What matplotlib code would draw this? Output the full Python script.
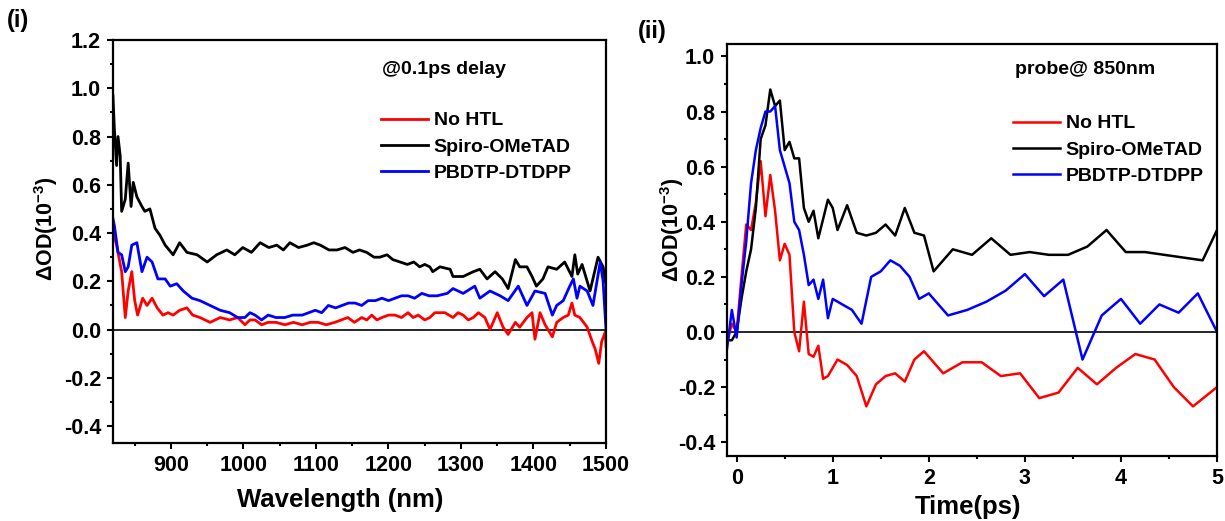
import matplotlib.pyplot as plt
from matplotlib.ticker import MultipleLocator

plt.rcParams['font.family'] = ['Liberation Sans', 'DejaVu Sans']
plt.rcParams['font.weight'] = 'bold'
plt.rcParams['mathtext.fontset'] = 'custom'
plt.rcParams['mathtext.bf'] = 'Liberation Sans:bold'
plt.rcParams['mathtext.default'] = 'bf'

# (i) spectra @0.1 ps delay
wl_black = [820, 822, 825, 827, 830, 832, 837, 841, 845, 848, 853, 860, 864, 871, 878, 885,
            892, 903, 912, 922, 936, 950, 963, 977, 988, 999, 1011, 1023, 1035, 1046, 1055,
            1064, 1076, 1088, 1097, 1106, 1118, 1129, 1140, 1151, 1160, 1170, 1180, 1188, 1198,
            1206, 1216, 1226, 1235, 1243, 1250, 1257, 1261, 1271, 1285, 1289, 1303, 1317, 1326,
            1336, 1347, 1357, 1365, 1375, 1381, 1391, 1398, 1404, 1413, 1420, 1432, 1443, 1453,
            1457, 1461, 1467, 1472, 1478, 1489, 1496, 1499, 1500]
od_black = [0.97, 0.83, 0.68, 0.80, 0.72, 0.49, 0.54, 0.69, 0.51, 0.61, 0.55, 0.51, 0.49, 0.50,
            0.42, 0.39, 0.35, 0.31, 0.36, 0.32, 0.31, 0.28, 0.31, 0.33, 0.31, 0.34, 0.32, 0.36,
            0.34, 0.35, 0.33, 0.36, 0.34, 0.35, 0.36, 0.35, 0.33, 0.33, 0.34, 0.32, 0.33, 0.32,
            0.30, 0.30, 0.31, 0.29, 0.28, 0.27, 0.28, 0.26, 0.27, 0.26, 0.24, 0.26, 0.25, 0.22,
            0.22, 0.24, 0.25, 0.21, 0.24, 0.21, 0.17, 0.29, 0.26, 0.26, 0.22, 0.18, 0.21, 0.26,
            0.25, 0.28, 0.22, 0.31, 0.23, 0.27, 0.22, 0.16, 0.30, 0.26, 0.20, 0.19]

wl_blue = [820, 822, 827, 832, 837, 841, 846, 853, 860, 867, 874, 882, 892, 899, 908, 917, 929,
           940, 954, 968, 981, 992, 1002, 1009, 1016, 1025, 1034, 1045, 1057, 1068, 1081, 1090,
           1099, 1108, 1117, 1127, 1136, 1145, 1154, 1163, 1172, 1182, 1191, 1200, 1209, 1218,
           1227, 1236, 1246, 1256, 1267, 1281, 1289, 1303, 1319, 1326, 1340, 1354, 1365, 1379,
           1391, 1402, 1416, 1426, 1432, 1441, 1450, 1455, 1460, 1464, 1474, 1482, 1492, 1496,
           1500]
od_blue = [0.46, 0.43, 0.32, 0.31, 0.24, 0.26, 0.35, 0.36, 0.24, 0.30, 0.28, 0.21, 0.21, 0.18,
           0.19, 0.16, 0.13, 0.12, 0.10, 0.08, 0.07, 0.05, 0.05, 0.07, 0.06, 0.04, 0.06, 0.05,
           0.05, 0.06, 0.06, 0.07, 0.08, 0.07, 0.10, 0.09, 0.10, 0.11, 0.11, 0.10, 0.12, 0.12,
           0.13, 0.12, 0.13, 0.14, 0.14, 0.13, 0.15, 0.14, 0.14, 0.15, 0.17, 0.15, 0.18, 0.13,
           0.16, 0.14, 0.12, 0.18, 0.10, 0.16, 0.15, 0.06, 0.10, 0.12, 0.18, 0.21, 0.13, 0.18,
           0.16, 0.10, 0.28, 0.20, 0.00]

wl_red = [820, 825, 832, 837, 841, 846, 850, 854, 861, 867, 874, 881, 889, 896, 903, 912, 922,
          930, 940, 954, 968, 981, 992, 1002, 1009, 1016, 1025, 1034, 1045, 1057, 1069, 1081,
          1092, 1103, 1114, 1126, 1135, 1144, 1153, 1163, 1170, 1177, 1184, 1191, 1200, 1209,
          1218, 1227, 1234, 1241, 1250, 1257, 1264, 1271, 1278, 1289, 1296, 1303, 1310, 1317,
          1324, 1333, 1340, 1350, 1358, 1365, 1375, 1381, 1391, 1398, 1402, 1409, 1416, 1426,
          1432, 1441, 1448, 1453, 1457, 1464, 1474, 1481, 1485, 1490, 1494, 1499, 1500]
od_red = [0.41, 0.35, 0.24, 0.05, 0.16, 0.24, 0.12, 0.06, 0.13, 0.10, 0.13, 0.09, 0.06, 0.07,
          0.06, 0.08, 0.09, 0.06, 0.05, 0.03, 0.05, 0.04, 0.05, 0.02, 0.04, 0.04, 0.02, 0.03,
          0.03, 0.02, 0.03, 0.02, 0.03, 0.03, 0.02, 0.03, 0.04, 0.05, 0.03, 0.05, 0.04, 0.06,
          0.04, 0.05, 0.06, 0.06, 0.05, 0.07, 0.05, 0.06, 0.04, 0.05, 0.07, 0.07, 0.07, 0.05,
          0.07, 0.06, 0.04, 0.05, 0.07, 0.05, 0.00, 0.07, 0.01, -0.02, 0.03, 0.01, 0.05, 0.07,
          -0.04, 0.07, 0.02, -0.03, 0.03, 0.05, 0.06, 0.11, 0.06, 0.05, 0.01, -0.05, -0.08,
          -0.14, -0.05, -0.01, -0.07]

# (ii) kinetics probed at 850 nm
t_black = [-0.1, -0.05, 0.0, 0.05, 0.1, 0.15, 0.2, 0.25, 0.3, 0.35, 0.4, 0.45, 0.5, 0.55, 0.6,
           0.65, 0.7, 0.75, 0.8, 0.85, 0.95, 1.0, 1.05, 1.15, 1.25, 1.35, 1.45, 1.55, 1.65, 1.75,
           1.85, 1.95, 2.05, 2.25, 2.45, 2.65, 2.85, 3.05, 3.25, 3.45, 3.65, 3.85, 4.05, 4.25,
           4.65, 4.85, 5.0]
k_black = [-0.03, -0.03, 0.0, 0.12, 0.22, 0.30, 0.45, 0.70, 0.75, 0.88, 0.82, 0.84, 0.66, 0.69,
           0.63, 0.63, 0.45, 0.40, 0.44, 0.34, 0.48, 0.45, 0.37, 0.46, 0.36, 0.35, 0.36, 0.39,
           0.35, 0.45, 0.36, 0.35, 0.22, 0.30, 0.28, 0.34, 0.28, 0.29, 0.28, 0.28, 0.31, 0.37,
           0.29, 0.29, 0.27, 0.26, 0.37]

t_red = [-0.1, -0.05, 0.0, 0.05, 0.1, 0.15, 0.2, 0.25, 0.3, 0.35, 0.4, 0.45, 0.5, 0.55, 0.6,
         0.65, 0.7, 0.75, 0.8, 0.85, 0.9, 0.95, 1.05, 1.15, 1.25, 1.35, 1.45, 1.55, 1.65, 1.75,
         1.85, 1.95, 2.15, 2.35, 2.55, 2.75, 2.95, 3.15, 3.35, 3.55, 3.75, 3.95, 4.15, 4.35,
         4.55, 4.75, 5.0]
k_red = [-0.04, 0.03, 0.0, 0.20, 0.39, 0.37, 0.47, 0.62, 0.42, 0.57, 0.44, 0.26, 0.32, 0.28,
         0.00, -0.07, 0.11, -0.08, -0.09, -0.05, -0.17, -0.16, -0.10, -0.12, -0.16, -0.27,
         -0.19, -0.16, -0.15, -0.18, -0.10, -0.07, -0.15, -0.11, -0.11, -0.16, -0.15, -0.24,
         -0.22, -0.13, -0.19, -0.13, -0.08, -0.10, -0.20, -0.27, -0.20]

t_blue = [-0.1, -0.05, 0.0, 0.05, 0.1, 0.15, 0.2, 0.25, 0.3, 0.35, 0.4, 0.45, 0.5, 0.55, 0.6,
          0.65, 0.7, 0.75, 0.8, 0.85, 0.9, 0.95, 1.0, 1.1, 1.2, 1.3, 1.4, 1.5, 1.6, 1.7, 1.8,
          1.9, 2.0, 2.2, 2.4, 2.6, 2.8, 3.0, 3.2, 3.4, 3.6, 3.8, 4.0, 4.2, 4.4, 4.6, 4.8, 5.0]
k_blue = [-0.06, 0.08, -0.02, 0.17, 0.33, 0.54, 0.66, 0.74, 0.80, 0.80, 0.82, 0.66, 0.60, 0.54,
          0.40, 0.37, 0.28, 0.17, 0.19, 0.12, 0.19, 0.05, 0.12, 0.10, 0.08, 0.03, 0.20, 0.22,
          0.26, 0.24, 0.20, 0.12, 0.14, 0.06, 0.08, 0.11, 0.15, 0.21, 0.13, 0.19, -0.10, 0.06,
          0.12, 0.03, 0.10, 0.07, 0.14, 0.00]

labels = ['No HTL', 'Spiro-OMeTAD', 'PBDTP-DTDPP']
colors = ['#ff0000', '#000000', '#0000ff']

fig = plt.figure(figsize=(12.25, 5.21), dpi=100)
ax1 = fig.add_axes([0.0922, 0.1497, 0.4025, 0.7735])
ax2 = fig.add_axes([0.5935, 0.1248, 0.4000, 0.7907])


def style(ax):
    for s in ax.spines.values():
        s.set_linewidth(1.6)
    ax.tick_params(which='both', direction='out', width=1.5, labelsize=15.5,
                   top=False, right=False, pad=4)
    ax.tick_params(which='major', length=4.5)
    ax.tick_params(which='minor', length=2.5)
    for lab in ax.get_xticklabels() + ax.get_yticklabels():
        lab.set_fontweight('bold')


leg_kw = dict(frameon=False, prop={'weight': 'bold', 'size': 14}, handlelength=2.4,
              handletextpad=0.3, labelspacing=0.45, borderpad=0, borderaxespad=0)

ax1.axhline(0, color='black', lw=1.2, zorder=1)
ax1.plot(wl_red, od_red, color=colors[0], lw=2, label=labels[0])
ax1.plot(wl_black, od_black, color=colors[1], lw=2, label=labels[1])
ax1.plot(wl_blue, od_blue, color=colors[2], lw=2, label=labels[2])
ax1.set_xlim(820, 1500)
ax1.set_ylim(-0.47, 1.2)
ax1.xaxis.set_minor_locator(MultipleLocator(50))
ax1.yaxis.set_minor_locator(MultipleLocator(0.1))
ax1.set_xticks([900, 1000, 1100, 1200, 1300, 1400, 1500])
ax1.set_yticks([-0.4, -0.2, 0.0, 0.2, 0.4, 0.6, 0.8, 1.0, 1.2])
ax1.set_yticklabels(['-0.4', '-0.2', '0.0', '0.2', '0.4', '0.6', '0.8', '1.0', '1.2'])
style(ax1)
ax1.set_xlabel('Wavelength (nm)', fontsize=18.5, fontweight='bold', va='center')
ax1.xaxis.set_label_coords(0.46, -0.141)
ax1.set_ylabel('ΔOD(10$^{-3}$)', fontsize=15.5, fontweight='bold', va='center')
ax1.yaxis.set_label_coords(-0.135, 0.533)
ax1.text(0.546, 0.926, '@0.1ps delay', transform=ax1.transAxes, fontsize=14,
         fontweight='bold', va='center')
ax1.legend(loc='upper left', bbox_to_anchor=(0.544, 0.822), **leg_kw)

ax2.axhline(0, color='black', lw=1.2, zorder=1)
ax2.plot(t_red, k_red, color=colors[0], lw=1.8, label=labels[0])
ax2.plot(t_black, k_black, color=colors[1], lw=1.8, label=labels[1])
ax2.plot(t_blue, k_blue, color=colors[2], lw=1.8, label=labels[2])
ax2.set_xlim(-0.1, 5)
ax2.set_ylim(-0.45, 1.045)
ax2.xaxis.set_major_locator(MultipleLocator(1))
ax2.xaxis.set_minor_locator(MultipleLocator(0.5))
ax2.set_yticks([-0.4, -0.2, 0.0, 0.2, 0.4, 0.6, 0.8, 1.0])
ax2.set_yticklabels(['-0.4', '-0.2', '0.0', '0.2', '0.4', '0.6', '0.8', '1.0'])
ax2.yaxis.set_minor_locator(MultipleLocator(0.1))
style(ax2)
ax2.set_xlabel('Time(ps)', fontsize=18.5, fontweight='bold', va='center')
ax2.xaxis.set_label_coords(0.492, -0.124)
ax2.set_ylabel('ΔOD(10$^{-3}$)', fontsize=15.5, fontweight='bold', va='center')
ax2.yaxis.set_label_coords(-0.113, 0.549)
ax2.text(0.588, 0.937, 'probe@ 850nm', transform=ax2.transAxes, fontsize=14,
         fontweight='bold', va='center')
ax2.legend(loc='upper left', bbox_to_anchor=(0.584, 0.828), **leg_kw)

fig.text(0.006, 0.96, '(i)', fontsize=17, fontweight='bold', va='center')
fig.text(0.521, 0.94, '(ii)', fontsize=17, fontweight='bold', va='center')

fig.savefig('out.png', dpi=100)
